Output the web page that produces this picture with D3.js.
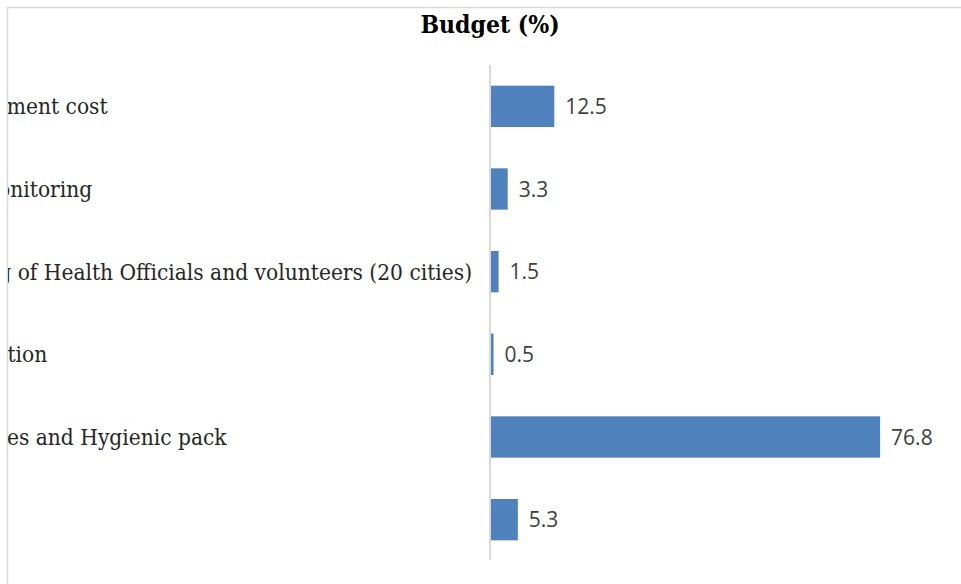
<!DOCTYPE html>
<html>
<head>
<meta charset="utf-8">
<script src="https://cdn.jsdelivr.net/npm/d3@7"></script>
<style>
  body { margin: 0; background: #fff; }
  .cat { font-family: "DejaVu Serif Condensed", "DejaVu Serif", serif; font-size: 22.5px; fill: #262626; }
  .val { font-family: "Open Sans", sans-serif; font-size: 21px; fill: #404040; }
  .title { font-family: "DejaVu Serif Condensed", "DejaVu Serif", serif; font-size: 24.5px; font-weight: bold; fill: #000; }
</style>
</head>
<body>
<svg id="chart"></svg>
<script>
//data
const categories = [
  "Management cost",
  "Data monitoring",
  "Training of Health Officials and volunteers (20 cities)",
  "Disinfection",
  "Medicines and Hygienic pack",
  "Others"
];
const values = [12.5, 3.3, 1.5, 0.5, 76.8, 5.3];
const title = "Budget (%)";

const width = 961, height = 584;

const svg = d3.select("#chart")
  .attr("width", width)
  .attr("height", height)
  .attr("viewBox", [0, 0, width, height]);

//chart frame
svg.append("rect")
  .attr("x", 7.5).attr("y", 7.5)
  .attr("width", width + 20).attr("height", height + 20)
  .attr("fill", "#fff")
  .attr("stroke", "#d9d9d9")
  .attr("stroke-width", 1.5);

//labels are cut at the frame edge
svg.append("clipPath").attr("id", "frameClip")
  .append("rect").attr("x", 8).attr("y", 8).attr("width", width).attr("height", height);

const x = d3.scaleLinear().domain([0, 90]).range([491, 947]);
const y = d3.scaleBand().domain(categories).range([65, 561])
  .paddingInner(0.5).paddingOuter(0.25);

svg.append("text")
  .attr("class", "title")
  .attr("x", 490).attr("y", 33)
  .attr("text-anchor", "middle")
  .text(title);

//axis line
svg.append("line")
  .attr("x1", 490).attr("x2", 490)
  .attr("y1", 65).attr("y2", 560)
  .attr("stroke", "#d9d9d9")
  .attr("stroke-width", 2);

const rows = categories.map((c, i) => ({ cat: c, val: values[i] }));

svg.append("g")
  .selectAll("rect")
  .data(rows)
  .join("rect")
  .attr("x", x(0))
  .attr("y", d => y(d.cat))
  .attr("width", d => x(d.val) - x(0))
  .attr("height", y.bandwidth())
  .attr("fill", "#4f81bd");

svg.append("g")
  .selectAll("text")
  .data(rows)
  .join("text")
  .attr("class", "val")
  .attr("x", d => x(d.val) + 11)
  .attr("y", d => y(d.cat) + y.bandwidth() / 2)
  .attr("dy", "0.36em")
  .text(d => d.val.toFixed(1));

//category labels, left aligned outside the frame (cut off as in the original)
svg.append("g")
  .attr("clip-path", "url(#frameClip)")
  .selectAll("text")
  .data(categories)
  .join("text")
  .attr("class", "cat")
  .attr("x", -76)
  .attr("y", d => y(d) + y.bandwidth() / 2)
  .attr("dy", "0.35em")
  .text(d => d);
</script>
</body>
</html>
